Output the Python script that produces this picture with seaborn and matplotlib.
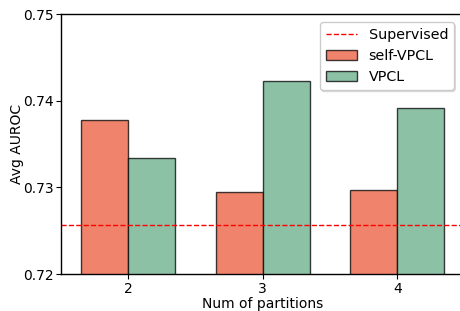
import pandas as pd
import matplotlib
matplotlib.use("Agg")
import matplotlib.pyplot as plt
import seaborn as sns

# === Data ===
partitions = ["2", "3", "4"]
self_vpcl = [0.7378, 0.7294, 0.7297]
vpcl = [0.7334, 0.7423, 0.7392]
supervised = 0.7256

df = pd.DataFrame({
    "Num of partitions": partitions * 2,
    "Avg AUROC": self_vpcl + vpcl,
    "Method": ["self-VPCL"] * 3 + ["VPCL"] * 3,
})

sns.set_style("white")
plt.rcParams["font.family"] = ["DejaVu Sans"]
plt.rcParams["font.size"] = 10
for key in ["text.color", "axes.labelcolor", "xtick.color", "ytick.color"]:
    plt.rcParams[key] = "black"

# 4.601 so the saved png comes out 460 px wide (4.6 * 100 rounds down to 459)
fig = plt.figure(figsize=(4.601, 3.111), dpi=100)
ax = fig.add_axes([61 / 460, 37 / 311, 403.5 / 460, 260 / 311])

palette = {"self-VPCL": "#F0836B", "VPCL": "#8CC1A6"}
sns.barplot(data=df, x="Num of partitions", y="Avg AUROC", hue="Method",
            palette=palette, width=0.7, saturation=1, edgecolor="black",
            linewidth=1, ax=ax)
for p in ax.patches:
    p.set_edgecolor((0, 0, 0, 0.75))

ax.axhline(supervised, color="red", linestyle="--", linewidth=1, label="Supervised")

ax.set_ylim(0.72, 0.75)
ax.set_xlim(-0.5, 2.5)
ax.set_yticks([0.72, 0.73, 0.74, 0.75])
ax.set_xlabel("Num of partitions", fontsize=10, labelpad=1)
ax.set_ylabel("Avg AUROC", fontsize=10, labelpad=-1)
ax.tick_params(axis="both", labelsize=10, length=3.5, width=0.8, direction="out",
               left=True, bottom=True, pad=2)
for s in ax.spines.values():
    s.set_color("black")
    s.set_linewidth(1)
ax.spines["right"].set_visible(False)

handles, labels = ax.get_legend_handles_labels()
order = [labels.index("Supervised"), labels.index("self-VPCL"), labels.index("VPCL")]
ax.legend([handles[i] for i in order], [labels[i] for i in order],
          loc="upper right", fontsize=10.3, frameon=True, fancybox=True,
          framealpha=1, edgecolor="#cccccc", handlelength=2.2,
          shadow={"ox": 1, "oy": -1, "color": "0.85", "alpha": 1},
          bbox_to_anchor=(0.991, 0.995))

fig.savefig("out.png", dpi=100)
